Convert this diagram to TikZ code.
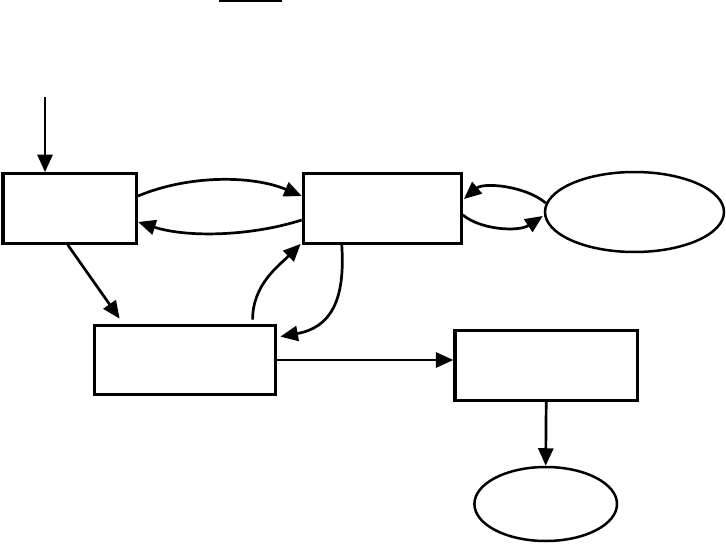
\documentclass[tikz,border=0pt]{standalone}
\usetikzlibrary{arrows.meta,shapes.geometric,calc}
\begin{document}
\begin{tikzpicture}[x=1pt,y=-1pt,
  box/.style={draw,line width=3.2pt,rectangle,inner sep=0pt},
  oval/.style={draw,line width=2.5pt,ellipse,inner sep=0pt},
  arr/.style={line width=2.7pt,-{Triangle[length=17.5pt,width=15pt]}}]
\useasboundingbox (0,0) rectangle (726,551);
% nodes
\node[box,minimum width=133.5pt,minimum height=69.5pt] (A) at (69.75,208.5) {};
\node[box,minimum width=158pt,minimum height=69.6pt] (B) at (382.3,208.5) {};
\node[oval,minimum width=179pt,minimum height=80pt] (C) at (634.5,212) {};
\node[box,minimum width=181.6pt,minimum height=69.6pt] (D) at (185,360) {};
\node[box,minimum width=182.3pt,minimum height=69.7pt] (E) at (546.2,365.7) {};
\node[oval,minimum width=142.6pt,minimum height=74pt] (F) at (545.7,504) {};
\coordinate (in) at (45,97);
% top bar
\draw[line width=2pt] (219,1) -- (282,1);
% connectors
\draw[arr] (in) -- (in |- A.north);
\draw[arr] ($(A.east)+(0,-12.5)$) .. controls +(50,-21) and +(-50,-21) .. ($(B.west)+(0,-12.5)$);
\draw[arr] ($(B.west)+(0,11.5)$) .. controls +(-50,16) and +(50,16) .. ($(A.east)+(0,13.5)$);
\draw[arr] ($(C.west)+(2,-9)$) .. controls +(-20,-17) and +(20,-17) .. ($(B.east)+(1,-9.5)$);
\draw[arr] ($(B.east)+(0,6.5)$) .. controls +(18,15) and +(-24,16) .. ($(C.west)+(-1,4)$);
\draw[arr] ($(B.south west)+(40,-1)$) .. controls +(4,57) and +(50,-9) .. ($(D.north east)+(3,13)$);
\draw[arr] ($(D.north west)+(160,-4)$) .. controls +(0,-35) and +(-22,22) .. ($(B.south west)+(-1,-1)$);
\draw[arr] ($(A.south)+(-2,0)$) -- ($(D.north west)+(27,-5)$);
\draw[arr] (D.east) -- (E.west |- D.east);
\draw[arr] (E.south) -- (F.north);
\end{tikzpicture}
\end{document}
